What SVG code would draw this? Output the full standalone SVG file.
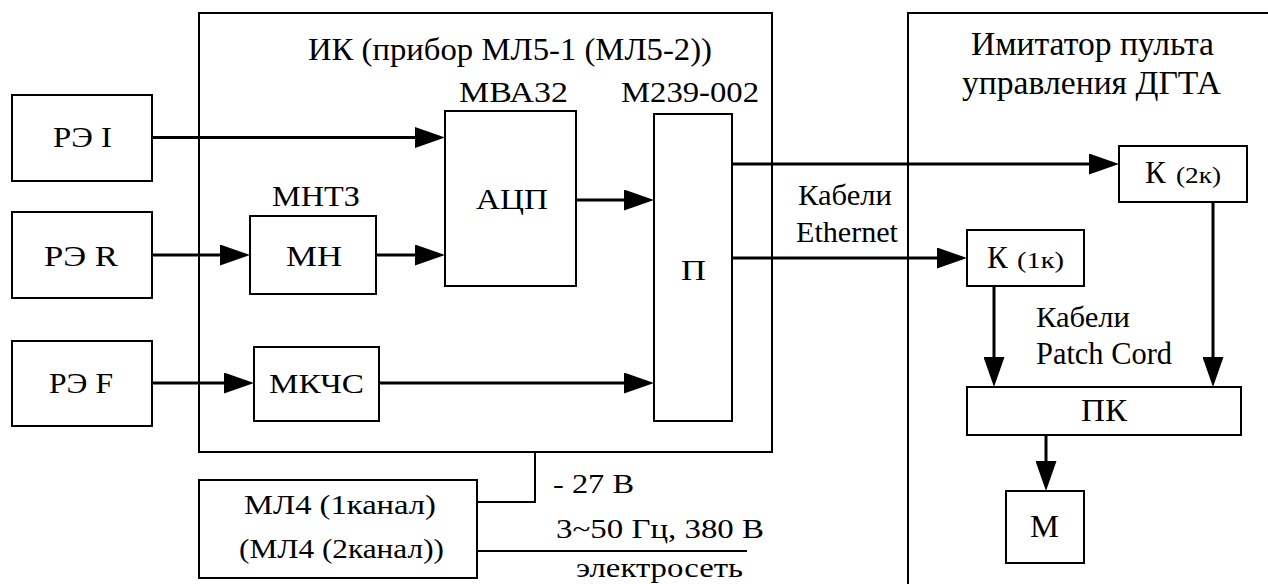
<svg xmlns="http://www.w3.org/2000/svg" width="1268" height="584" viewBox="0 0 1268 584">
  <defs>
    <marker id="arrow" viewBox="0 0 30 21" refX="20" refY="10.5" markerWidth="30" markerHeight="21" markerUnits="userSpaceOnUse" orient="auto">
      <path d="M0,0 L30,10.5 L0,21 Z" fill="#000"/>
    </marker>
  </defs>
  <style>
    .box { fill: #fff; stroke: #000; stroke-width: 2; }
    .frame { fill: none; stroke: #000; stroke-width: 2; }
    .wire { fill: none; stroke: #000; stroke-width: 3; }
    .thin { fill: none; stroke: #000; stroke-width: 2; }
    .arr { marker-end: url(#arrow); }
  </style>

  <g font-family="Liberation Serif, serif" font-size="28" fill="#000" lengthAdjust="spacingAndGlyphs">
  <!-- enclosing units -->
  <g id="ik">
    <rect class="frame" x="199" y="13" width="573" height="439"/>
    <text x="308" y="60" font-size="31.5" textLength="404" lengthAdjust="spacingAndGlyphs">ИК (прибор МЛ5-1 (МЛ5-2))</text>
  </g>
  <g id="imitator">
    <rect class="frame" x="908" y="13" width="380" height="600"/>
    <text x="971" y="55" font-size="33" textLength="243" lengthAdjust="spacingAndGlyphs">Имитатор пульта</text>
    <text x="962" y="94" font-size="33" textLength="259" lengthAdjust="spacingAndGlyphs">управления ДГТА</text>
  </g>

  <!-- connectors -->
  <g id="connectors">
    <path class="wire arr" d="M152,137.5 H435"/>
    <path class="wire arr" d="M152,255 H240"/>
    <path class="wire arr" d="M376,255 H435"/>
    <path class="wire arr" d="M152,383 H244"/>
    <path class="wire arr" d="M379,383 H644"/>
    <path class="wire arr" d="M576,200 H644"/>
    <path class="wire arr" d="M732,164 H1109"/>
    <path class="wire arr" d="M732,258 H957"/>
    <path class="wire arr" d="M994,286 V377"/>
    <path class="wire arr" d="M1213,202 V377"/>
    <path class="wire arr" d="M1046,435 V481"/>
    <path class="thin" d="M535,452 V502 H477"/>
    <path class="thin" d="M477,551 H747"/>
  </g>

  <!-- sensors -->
  <g id="re-i">
    <rect class="box" x="12" y="95" width="140" height="86"/>
    <text x="53" y="147" font-size="28.5" textLength="59" lengthAdjust="spacingAndGlyphs">РЭ I</text>
  </g>
  <g id="re-r">
    <rect class="box" x="12" y="212" width="140" height="86"/>
    <text x="44" y="266" font-size="28.5" textLength="74" lengthAdjust="spacingAndGlyphs">РЭ R</text>
  </g>
  <g id="re-f">
    <rect class="box" x="12" y="341" width="140" height="85"/>
    <text x="49" y="393" font-size="28.5" textLength="64" lengthAdjust="spacingAndGlyphs">РЭ F</text>
  </g>

  <!-- modules inside ИК -->
  <g id="mn">
    <text x="272" y="206" font-size="28.5" textLength="88" lengthAdjust="spacingAndGlyphs">МНТЗ</text>
    <rect class="box" x="250" y="216" width="126" height="78"/>
    <text x="286" y="266" font-size="28.5" textLength="56" lengthAdjust="spacingAndGlyphs">МН</text>
  </g>
  <g id="adc">
    <text x="459" y="102" font-size="30" textLength="109" lengthAdjust="spacingAndGlyphs">МВА32</text>
    <rect class="box" x="445" y="111" width="131" height="175"/>
    <text x="476" y="209" font-size="29" textLength="72" lengthAdjust="spacingAndGlyphs">АЦП</text>
  </g>
  <g id="mkchs">
    <rect class="box" x="254" y="347" width="125" height="74"/>
    <text x="269" y="393" font-size="28" textLength="95" lengthAdjust="spacingAndGlyphs">МКЧС</text>
  </g>
  <g id="p">
    <text x="621" y="102" font-size="30" textLength="138" lengthAdjust="spacingAndGlyphs">М239-002</text>
    <rect class="box" x="654" y="114" width="78" height="307"/>
    <text x="681" y="280" font-size="29" textLength="25" lengthAdjust="spacingAndGlyphs">П</text>
  </g>

  <!-- cable labels -->
  <text x="798" y="205" font-size="29.5" textLength="94" lengthAdjust="spacingAndGlyphs">Кабели</text>
  <text x="796" y="242" font-size="29.5" textLength="102" lengthAdjust="spacingAndGlyphs">Ethernet</text>
  <text x="1036" y="327" font-size="29.5" textLength="94" lengthAdjust="spacingAndGlyphs">Кабели</text>
  <text x="1036" y="364" font-size="30.5" textLength="136" lengthAdjust="spacingAndGlyphs">Patch Cord</text>

  <!-- modules inside the console imitator -->
  <g id="k2">
    <rect class="box" x="1119" y="146" width="128" height="56"/>
    <text x="1145" y="183" font-size="31">К</text>
    <text x="1176" y="183" font-size="23" textLength="45" lengthAdjust="spacingAndGlyphs">(2к)</text>
  </g>
  <g id="k1">
    <rect class="box" x="967" y="230" width="117" height="56"/>
    <text x="987" y="268" font-size="31">К</text>
    <text x="1017" y="268" font-size="23" textLength="47" lengthAdjust="spacingAndGlyphs">(1к)</text>
  </g>
  <g id="pc">
    <rect class="box" x="967" y="387" width="274" height="48"/>
    <text x="1081" y="421" font-size="31" textLength="46" lengthAdjust="spacingAndGlyphs">ПК</text>
  </g>
  <g id="m">
    <rect class="box" x="1006" y="491" width="78" height="72"/>
    <text x="1030" y="537" font-size="31" textLength="29" lengthAdjust="spacingAndGlyphs">М</text>
  </g>

  <!-- power supply -->
  <g id="ml4">
    <rect class="box" x="199" y="480" width="278" height="98"/>
    <text x="244" y="514" font-size="27.5" textLength="192" lengthAdjust="spacingAndGlyphs">МЛ4 (1канал)</text>
    <text x="239" y="558" font-size="27.5" textLength="205" lengthAdjust="spacingAndGlyphs">(МЛ4 (2канал))</text>
  </g>
  <text x="553" y="493" font-size="27.5" textLength="81" lengthAdjust="spacingAndGlyphs">- 27 В</text>
  <text x="556" y="538" font-size="27.5" textLength="208" lengthAdjust="spacingAndGlyphs">3~50 Гц, 380 В</text>
  <text x="576" y="577" font-size="27.5" textLength="167" lengthAdjust="spacingAndGlyphs">электросеть</text>
  </g>
</svg>
